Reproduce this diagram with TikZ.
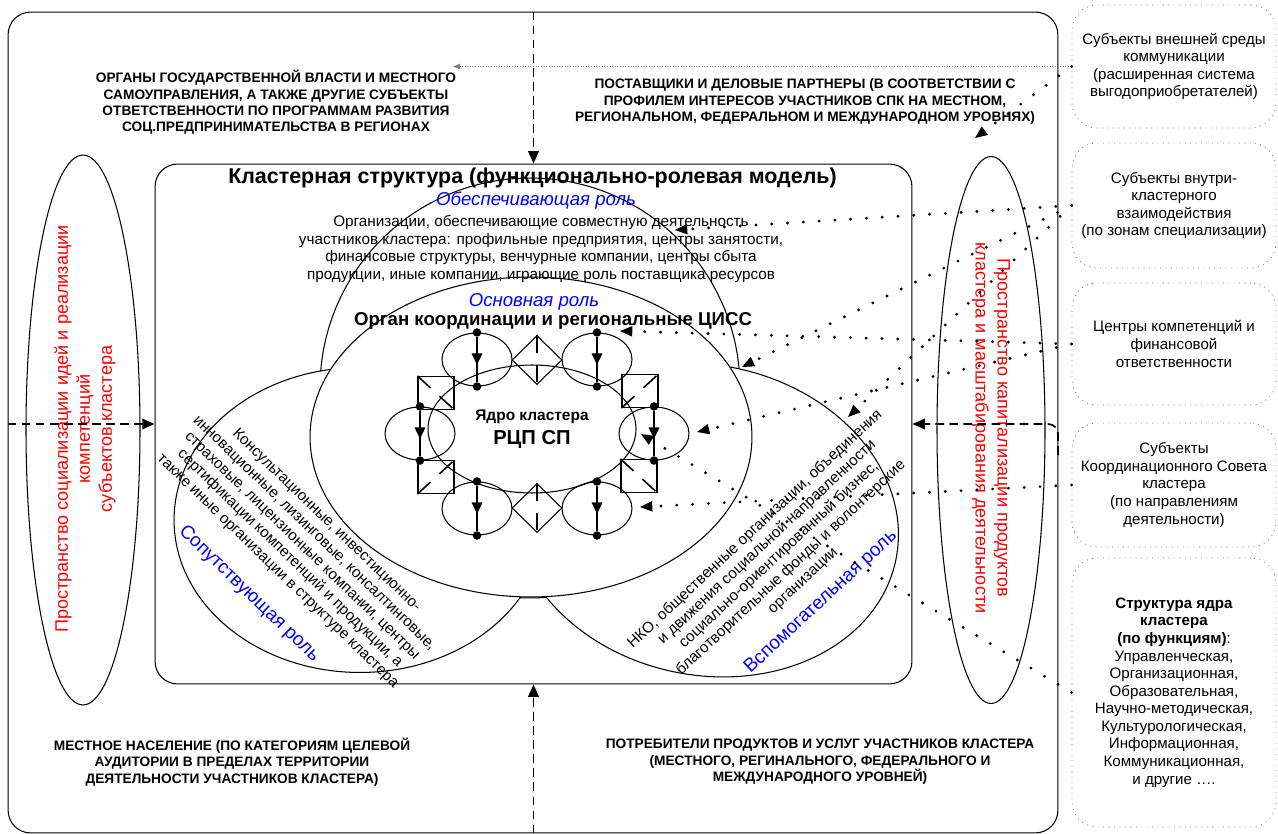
\documentclass[tikz,border=0pt]{standalone}
\usepackage{fontspec}
\setmainfont{Liberation Sans}
\usetikzlibrary{arrows.meta,shapes.geometric,decorations.markings}

\begin{document}
\begin{tikzpicture}[x=0.02cm,y=-0.02cm]
\tikzset{frame/.style = {shape=rectangle,draw,rounded corners=0.45cm,line width=0.6pt}}
\tikzset{side/.style = {shape=rectangle,draw=gray,rounded corners=0.5cm,line width=0.5pt,dash pattern=on 0.5pt off 2.6pt,minimum width=4.08cm,align=center,font=\fontsize{8.6}{10}\selectfont}}
\tikzset{oval/.style = {shape=ellipse,draw,line width=0.6pt,inner sep=0pt}}
\tikzset{role/.style = {shape=ellipse,draw,fill=white,line width=0.6pt,inner sep=0pt}}
\tikzset{petal/.style = {shape=ellipse,draw,line width=0.6pt,inner sep=0pt,minimum width=1.4cm,minimum height=1.06cm}}
\tikzset{link/.style = {shape=diamond,draw,line width=0.6pt,inner sep=0pt,minimum width=1cm,minimum height=0.98cm}}
\tikzset{joint/.style = {shape=rectangle,draw,line width=0.6pt,inner sep=0pt,minimum width=0.72cm,minimum height=0.66cm}}
\tikzset{dot/.style = {shape=circle,fill,inner sep=0pt,minimum size=0.17cm}}
\tikzset{caps/.style = {align=center,font=\fontsize{7.8}{9.35}\selectfont\bfseries}}
\tikzset{body/.style = {align=center,font=\fontsize{8.7}{10}\selectfont}}
\tikzset{rolename/.style = {text=blue,font=\fontsize{10.8}{13}\selectfont}}
\tikzset{spacename/.style = {text=red,align=center,font=\fontsize{10.3}{12.5}\selectfont}}
\tikzset{dashedge/.style = {->,>={Triangle[length=7pt,width=6pt]},line width=1pt,dash pattern=on 5pt off 3pt}}
\tikzset{dotedge/.style = {->,>={Triangle[length=7pt,width=6pt,line width=0pt]},line width=1.8pt,line cap=round,dash pattern=on 0pt off 9pt}}
\tikzset{thinedge/.style = {->,>={Triangle[length=4pt,width=3pt]},draw=gray,line width=0.5pt,densely dotted}}
\tikzset{flow/.style = {line width=0.9pt,postaction={decorate},decoration={markings,mark=at position 0.62 with {\arrow{Triangle[length=6.5pt,width=6pt]}}}}}
\tikzset{cut/.style = {line width=0.9pt,dash pattern=on 10pt off 7pt}}
\useasboundingbox (0,0) rectangle (1278,834);

%frames
\node[frame,minimum width=21cm,minimum height=16.42cm] (out) at (533,422.5) {};
\node[frame,minimum width=15.14cm,minimum height=10.4cm] (cl) at (533.5,424) {};

% ---- spaces
\node[oval,minimum width=2.28cm,minimum height=11cm] (sp1) at (83,430) {};
\node[oval,minimum width=2.16cm,minimum height=10.94cm] (sp2) at (991,430) {};

% ---- roles
\node[role,minimum width=8.4cm,minimum height=8.4cm] (r_obs) at (530,388) {};
\node[role,minimum width=7.44cm,minimum height=6.1cm] (r_sop) at (360,520) {};
\node[role,minimum width=7.8cm,minimum height=6.2cm,rotate=-12] (r_vsp) at (705,520) {};
\node[role,minimum width=8.84cm,minimum height=6.4cm] (r_osn) at (531,437) {};

%core
\node[oval,minimum width=4.16cm,minimum height=2.56cm] (core) at (532,429) {};
\node[petal] (p1) at (477,359.5) {};
\node[petal] (p2) at (597,359.5) {};
\node[petal] (p3) at (420,433.5) {};
\node[petal] (p4) at (654,433.5) {};
\node[petal] (p5) at (477,508.5) {};
\node[petal] (p6) at (597,508.5) {};

\node[dot] (p1a) at (p1.north) {};
\node[dot] (p1b) at (p1.south) {};
\node[dot] (p2a) at (p2.north) {};
\node[dot] (p2b) at (p2.south) {};
\node[dot] (p3a) at (p3.north) {};
\node[dot] (p3b) at (p3.south) {};
\node[dot] (p4a) at (p4.north) {};
\node[dot] (p4b) at (p4.south) {};
\node[dot] (p5a) at (p5.north) {};
\node[dot] (p5b) at (p5.south) {};
\node[dot] (p6a) at (p6.north) {};
\node[dot] (p6b) at (p6.south) {};

\draw[flow] (p1a) -- (p1b);
\draw[flow] (p2a) -- (p2b);
\draw[flow] (p3a) -- (p3b);
\draw[flow] (p4a) -- (p4b);
\draw[flow] (p5a) -- (p5b);
\draw[flow] (p6a) -- (p6b);

\node[link] (lk1) at (537,360) {};
\node[link] (lk2) at (537,508) {};
\draw[cut] (lk1.north) -- (lk1.south);
\draw[cut] (lk2.north) -- (lk2.south);

\node[joint] (j1) at (436,393) {};
\node[joint] (j2) at (640,391) {};
\node[joint] (j3) at (436,477) {};
\node[joint] (j4) at (639,476) {};
\draw[cut] (j1.north west) -- (j1.south east);
\draw[cut] (j2.south west) -- (j2.north east);
\draw[cut] (j3.south west) -- (j3.north east);
\draw[cut] (j4.north west) -- (j4.south east);

%labels
\node[caps] (org) at (276,102.5) {ОРГАНЫ ГОСУДАРСТВЕННОЙ ВЛАСТИ И МЕСТНОГО\\САМОУПРАВЛЕНИЯ, А ТАКЖЕ ДРУГИЕ СУБЪЕКТЫ\\ОТВЕТСТВЕННОСТИ ПО ПРОГРАММАМ РАЗВИТИЯ\\СОЦ.ПРЕДПРИНИМАТЕЛЬСТВА В РЕГИОНАХ};
\node[caps] (sup) at (805,101.5) {ПОСТАВЩИКИ И ДЕЛОВЫЕ ПАРТНЕРЫ (В СООТВЕТСТВИИ С\\ПРОФИЛЕМ ИНТЕРЕСОВ УЧАСТНИКОВ СПК НА МЕСТНОМ,\\РЕГИОНАЛЬНОМ, ФЕДЕРАЛЬНОМ И МЕЖДУНАРОДНОМ УРОВНЯХ)};
\node[caps] (pop) at (232,762) {МЕСТНОЕ НАСЕЛЕНИЕ (ПО КАТЕГОРИЯМ ЦЕЛЕВОЙ\\АУДИТОРИИ В ПРЕДЕЛАХ ТЕРРИТОРИИ\\ДЕЯТЕЛЬНОСТИ УЧАСТНИКОВ КЛАСТЕРА)};
\node[caps] (cons) at (820,762) {ПОТРЕБИТЕЛИ ПРОДУКТОВ И УСЛУГ УЧАСТНИКОВ КЛАСТЕРА\\(МЕСТНОГО, РЕГИНАЛЬНОГО, ФЕДЕРАЛЬНОГО И\\МЕЖДУНАРОДНОГО УРОВНЕЙ)};

\node[font=\fontsize{12.2}{14}\selectfont\bfseries] (title) at (532.5,178) {Кластерная структура (функционально-ролевая модель)};
\node[rolename,font=\fontsize{10.6}{13}\selectfont\itshape] (n_obs) at (536,201) {Обеспечивающая роль};
\node[body] (t_obs) at (541,249) {Организации, обеспечивающие совместную деятельность\\участников кластера: профильные предприятия, центры занятости,\\финансовые структуры, венчурные компании, центры сбыта\\продукции, иные компании, играющие роль поставщика ресурсов};
\node[rolename,font=\fontsize{10.6}{13}\selectfont\itshape] (n_osn) at (534,302) {Основная роль};
\node[font=\fontsize{10.6}{13}\selectfont\bfseries] (t_osn) at (553,321) {Орган координации и региональные ЦИСС};
\node[font=\fontsize{8.8}{10}\selectfont\bfseries] (k1) at (532,417) {Ядро кластера};
\node[font=\fontsize{11.5}{13}\selectfont\bfseries] (k2) at (532,439) {РЦП СП};

\node[body,rotate=-44] (t_sop) at (302,546) {Консультационные, инвестиционно-\\инновационные, лизинговые, консалтинговые,\\страховые, лицензионные компании, центры\\сертификации компетенций и продукции, а\\также иные организации в структуре кластера};
\node[rolename,rotate=-44] (n_sop) at (249,594) {Сопутствующая роль};
\node[body,rotate=43] (t_vsp) at (779,555) {НКО, общественные организации, объединения\\и движения социальной направленности\\социально-ориентированный бизнес,\\благотворительные фонды и волонтерские\\организации};
\node[rolename,rotate=43] (n_vsp) at (821,602) {Вспомогательная роль};

\node[spacename,rotate=90] (n_sp1) at (85,429) {Пространство социализации идей и реализации\\компетенций\\субъектов кластера};
\node[spacename,rotate=-90] (n_sp2) at (991,428) {Пространство капитализации продуктов\\кластера и масштабирования деятельности};

% ---- side boxes
\node[side,minimum height=2.46cm] (b1) at (1174,66.5) {Субъекты внешней среды\\коммуникации\\(расширенная система\\выгодоприобретателей)};
\node[side,minimum height=2.5cm] (b2) at (1174,205.5) {Субъекты внутри-\\кластерного\\взаимодействия\\(по зонам специализации)};
\node[side,minimum height=2.44cm] (b3) at (1174,344) {Центры компетенций и\\финансовой\\ответственности};
\node[side,minimum height=2.48cm] (b4) at (1174,485) {Субъекты\\Координационного Совета\\кластера\\(по направлениям\\деятельности)};
\node[side,minimum height=5.38cm] (b5) at (1174,692.5) {\textbf{Структура ядра}\\\textbf{кластера}\\\textbf{(по функциям)}:\\Управленческая,\\Организационная,\\Образовательная,\\Научно-методическая,\\Культурологическая,\\Информационная,\\Коммуникационная,\\и другие ….};

%edges
\draw[dashedge] (out.north -| cl.north) -- (cl.north);
\draw[dashedge] (out.south -| cl.south) -- (cl.south);
\draw[dashedge] (out.west |- cl.west) -- (cl.west);
\coordinate (rin) at (1058,455);
\draw[dashedge,rounded corners=0.2cm] (rin) |- (cl.east);

\coordinate (t0) at (453,66.5);
\coordinate (t1) at (975,138);
\coordinate (t2) at (675,230);
\coordinate (t3) at (742,367);
\coordinate (t4) at (848,417);
\coordinate (t5) at (620,331);
\coordinate (t6) at (697,432);
\coordinate (t7) at (640,507);
\coordinate (t8) at (641,434);

\draw[thinedge] (b1.west) -- (t0);
\draw[dotedge] (b1.west) -- (t1);
\draw[dotedge] (b2.west) -- (t2);
\draw[dotedge] (b2.west) -- (t3);
\draw[dotedge] (b2.west) -- (t4);
\draw[dotedge] (b3.west) -- (t5);
\draw[dotedge] (b3.west) -- (t6);
\draw[dotedge] (b4.west) -- (t7);
\draw[dotedge] (b5.west) -- (t8);
\end{tikzpicture}
\end{document}
